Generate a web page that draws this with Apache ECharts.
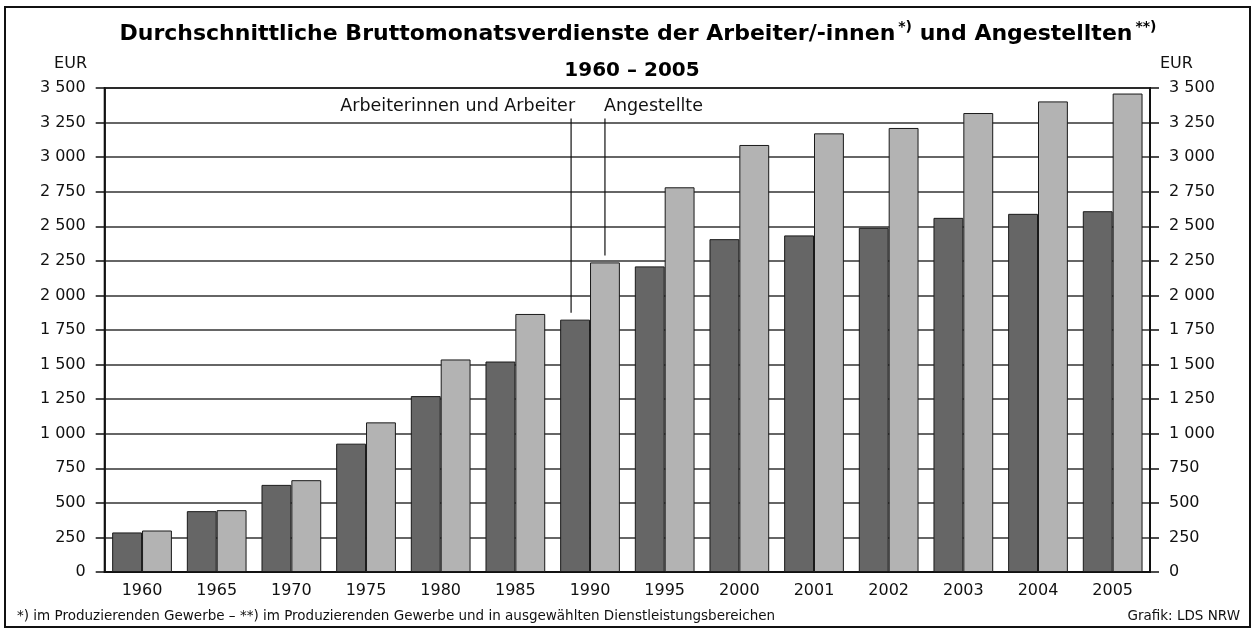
<!DOCTYPE html>
<html>
<head>
<meta charset="utf-8">
<script src="https://cdn.jsdelivr.net/npm/echarts@6/dist/echarts.min.js"></script>
<style>
  html, body { margin: 0; padding: 0; background: #fff; }
  #chart { width: 1252px; height: 632px; }
</style>
</head>
<body>
<div id="chart"></div>
<script>
// Jahre
var years = ['1960', '1965', '1970', '1975', '1980', '1985', '1990', '1995', '2000', '2001', '2002', '2003', '2004', '2005'];
// EUR je Monat
var arbeiter = [286, 440, 630, 928, 1272, 1522, 1825, 2210, 2407, 2434, 2489, 2561, 2590, 2609];
var angestellte = [300, 447, 664, 1082, 1537, 1866, 2239, 2782, 3088, 3172, 3211, 3319, 3403, 3460];

var yMin = 0, yMax = 3500, yStep = 250;

var font = 'DejaVu Sans';

function fmt(v) {
    var s = String(v);
    if (v >= 1000) s = s.slice(0, s.length - 3) + ' ' + s.slice(-3);
    return s;
}

var yAxisBase = {
    type: 'value',
    min: yMin, max: yMax, interval: yStep,
    axisLine: { show: true, lineStyle: { color: '#111', width: 1.5 } },
    axisTick: { show: true, length: 9, lineStyle: { color: '#111', width: 1.5 } },
    axisLabel: { color: '#111', fontFamily: font, fontSize: 16, margin: 19, formatter: fmt }
};

var chart = echarts.init(document.getElementById('chart'), null, { renderer: 'canvas' });

var option = {
    animation: false,
    backgroundColor: '#fff',
    title: [{
        text: 'Durchschnittliche Bruttomonatsverdienste der Arbeiter/-innen{sup|*)} und Angestellten{sup|**)}',
        left: 633, top: 15, textAlign: 'center',
        textStyle: {
            fontFamily: font, fontWeight: 'bold', fontSize: 22, color: '#000',
            rich: { sup: { fontFamily: font, fontWeight: 'bold', fontSize: 14, verticalAlign: 'top', padding: [0, 0, 14, 3] } }
        }
    }, {
        text: '1960 – 2005',
        left: 627, top: 56, textAlign: 'center',
        textStyle: { fontFamily: font, fontWeight: 'bold', fontSize: 20, color: '#000' }
    }],
    grid: {
        left: 104.7, right: 102, top: 88, bottom: 60,
        show: true, borderColor: '#111', borderWidth: 2, backgroundColor: 'transparent'
    },
    xAxis: {
        type: 'category',
        data: years,
        axisLine: { show: true, lineStyle: { color: '#111', width: 2 } },
        axisTick: { show: false },
        axisLabel: { color: '#111', fontFamily: font, fontSize: 16, margin: 11 }
    },
    yAxis: [
        Object.assign({}, yAxisBase, {
            position: 'left',
            splitLine: { show: true, lineStyle: { color: '#333', width: 1.5 } }
        }),
        Object.assign({}, yAxisBase, {
            position: 'right',
            splitLine: { show: false }
        })
    ],
    series: [{
        name: 'Arbeiterinnen und Arbeiter',
        type: 'bar',
        data: arbeiter,
        barGap: '0%',
        barCategoryGap: '20%',
        itemStyle: { color: '#666666', borderColor: '#1a1a1a', borderWidth: 1 }
    }, {
        name: 'Angestellte',
        type: 'bar',
        data: angestellte,
        itemStyle: { color: '#b3b3b3', borderColor: '#1a1a1a', borderWidth: 1 }
    }]
};

chart.setOption(option);

// Beschriftung der Säulen mit Hinweislinien (über die Achsen positioniert)
var idx = years.indexOf('1990');
var catW = (1252 - 104.7 - 102) / years.length;
var c = chart.convertToPixel({ xAxisIndex: 0 }, idx);
var xDark = c - catW * 0.2 - 4;
var xLight = c + catW * 0.2;
var yTop = chart.convertToPixel({ yAxisIndex: 0 }, 3280);
var yDarkEnd = chart.convertToPixel({ yAxisIndex: 0 }, arbeiter[idx] + 50);
var yLightEnd = chart.convertToPixel({ yAxisIndex: 0 }, angestellte[idx] + 50);

chart.setOption({
    graphic: [
        { type: 'rect', shape: { x: 5, y: 7, width: 1245, height: 620 }, style: { fill: 'none', stroke: '#111', lineWidth: 2 }, z: 100 },
        { type: 'text', x: 87, y: 64, style: { text: 'EUR', font: '16px "DejaVu Sans"', fill: '#111', textAlign: 'right', textVerticalAlign: 'middle' } },
        { type: 'text', x: 1160, y: 64, style: { text: 'EUR', font: '16px "DejaVu Sans"', fill: '#111', textAlign: 'left', textVerticalAlign: 'middle' } },
        { type: 'line', shape: { x1: xDark, y1: yTop, x2: xDark, y2: yDarkEnd }, style: { stroke: '#111', lineWidth: 1.2 }, z: 50 },
        { type: 'line', shape: { x1: xLight, y1: yTop, x2: xLight, y2: yLightEnd }, style: { stroke: '#111', lineWidth: 1.2 }, z: 50 },
        { type: 'text', x: xDark + 4, y: yTop - 12, style: { text: 'Arbeiterinnen und Arbeiter', font: '17.5px "DejaVu Sans"', fill: '#111', textAlign: 'right', textVerticalAlign: 'middle' }, z: 50 },
        { type: 'text', x: xLight - 1, y: yTop - 12, style: { text: 'Angestellte', font: '17.5px "DejaVu Sans"', fill: '#111', textAlign: 'left', textVerticalAlign: 'middle' }, z: 50 },
        { type: 'text', x: 17, y: 616, style: { text: '*) im Produzierenden Gewerbe – **) im Produzierenden Gewerbe und in ausgewählten Dienstleistungsbereichen', font: '13.5px "DejaVu Sans"', fill: '#111', textAlign: 'left', textVerticalAlign: 'middle' } },
        { type: 'text', x: 1240, y: 616, style: { text: 'Grafik: LDS NRW', font: '13.5px "DejaVu Sans"', fill: '#111', textAlign: 'right', textVerticalAlign: 'middle' } }
    ]
});
</script>
</body>
</html>
